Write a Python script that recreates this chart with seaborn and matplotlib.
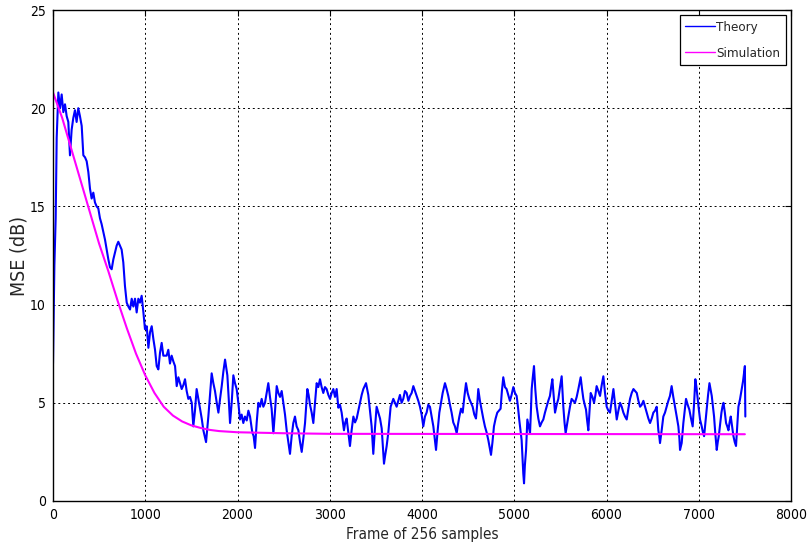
import matplotlib
matplotlib.use("Agg")
import matplotlib.pyplot as plt
import seaborn as sns
import pandas as pd

# ---- data ----
theory_x = [0, 15, 29, 40, 58, 76, 94, 112, 130, 148, 166, 184, 202, 220, 238, 256, 274, 292, 311, 329,
            347, 365, 383, 401, 419, 437, 455, 473, 491, 509, 527, 545, 564, 582, 600, 618, 636, 654, 672, 690,
            708, 726, 744, 762, 780, 799, 817, 835, 853, 871, 889, 907, 925, 943, 961, 980, 997, 1016, 1034, 1052,
            1070, 1088, 1106, 1124, 1142, 1160, 1178, 1196, 1214, 1232, 1250, 1268, 1286, 1305, 1323, 1341, 1359, 1377, 1395, 1413,
            1431, 1449, 1467, 1485, 1504, 1521, 1539, 1557, 1576, 1594, 1612, 1630, 1659, 1684, 1702, 1720, 1738, 1756, 1775, 1793,
            1811, 1829, 1847, 1865, 1890, 1905, 1919, 1937, 1955, 1973, 1991, 2009, 2027, 2045, 2063, 2081, 2100, 2118, 2136, 2160,
            2175, 2190, 2208, 2226, 2244, 2262, 2280, 2298, 2316, 2334, 2352, 2370, 2389, 2407, 2425, 2443, 2461, 2479, 2497, 2515,
            2533, 2551, 2569, 2587, 2605, 2623, 2641, 2660, 2678, 2696, 2714, 2732, 2757, 2771, 2786, 2804, 2822, 2840, 2858, 2876,
            2894, 2912, 2930, 2948, 2966, 2985, 3003, 3021, 3039, 3057, 3075, 3093, 3111, 3129, 3154, 3168, 3183, 3201, 3219, 3237,
            3256, 3274, 3292, 3310, 3328, 3346, 3364, 3393, 3418, 3436, 3454, 3472, 3490, 3508, 3526, 3545, 3563, 3575, 3588, 3600,
            3617, 3635, 3660, 3689, 3707, 3725, 3743, 3761, 3779, 3797, 3815, 3834, 3852, 3870, 3888, 3906, 3924, 3942, 3960, 3978,
            3996, 4014, 4032, 4050, 4068, 4086, 4105, 4123, 4140, 4152, 4170, 4188, 4206, 4224, 4249, 4267, 4285, 4303, 4321, 4339,
            4357, 4376, 4390, 4405, 4423, 4441, 4459, 4477, 4495, 4513, 4531, 4549, 4567, 4585, 4600, 4610, 4628, 4646, 4664, 4682,
            4700, 4719, 4748, 4764, 4780, 4798, 4816, 4834, 4852, 4866, 4881, 4899, 4917, 4935, 4953, 4971, 4990, 5008, 5026, 5040,
            5055, 5068, 5080, 5090, 5098, 5106, 5115, 5128, 5142, 5156, 5171, 5180, 5189, 5201, 5214, 5228, 5243, 5261, 5279, 5297,
            5315, 5333, 5351, 5369, 5387, 5400, 5413, 5428, 5442, 5460, 5478, 5496, 5514, 5532, 5545, 5557, 5572, 5586, 5604, 5622,
            5640, 5658, 5677, 5695, 5720, 5735, 5749, 5764, 5778, 5790, 5803, 5816, 5829, 5847, 5865, 5880, 5893, 5912, 5930, 5948,
            5966, 5984, 6002, 6020, 6038, 6057, 6075, 6093, 6111, 6129, 6147, 6165, 6183, 6201, 6219, 6237, 6255, 6273, 6292, 6310,
            6328, 6346, 6364, 6382, 6400, 6418, 6436, 6454, 6472, 6490, 6508, 6526, 6544, 6553, 6562, 6572, 6580, 6598, 6616, 6634,
            6652, 6670, 6688, 6706, 6724, 6743, 6761, 6779, 6790, 6797, 6815, 6833, 6848, 6862, 6880, 6898, 6916, 6934, 6950, 6963,
            6975, 6985, 7000, 7014, 7032, 7045, 7058, 7072, 7087, 7101, 7116, 7128, 7141, 7154, 7166, 7180, 7195, 7206, 7217, 7231,
            7246, 7257, 7268, 7283, 7296, 7309, 7322, 7334, 7347, 7362, 7376, 7390, 7404, 7417, 7430, 7448, 7466, 7480, 7491, 7500,
            7505]
theory_y = [7.0, 12.0, 14.4, 18.5, 20.8, 20.0, 20.7, 19.8, 20.2, 19.6, 19.3, 17.6, 18.9, 19.5, 19.9, 19.3, 20.0, 19.6, 19.1, 17.6,
            17.5, 17.3, 16.75, 15.9, 15.4, 15.7, 15.2, 15.0, 14.9, 14.4, 14.1, 13.7, 13.3, 12.8, 12.3, 11.9, 11.8, 12.3, 12.65, 13.0,
            13.2, 13.0, 12.8, 12.15, 10.95, 10.1, 9.9, 9.75, 10.3, 9.9, 10.3, 9.6, 10.3, 10.1, 10.45, 9.6, 8.75, 8.9, 7.8, 8.6,
            8.9, 8.25, 7.7, 6.87, 6.7, 7.55, 8.05, 7.4, 7.4, 7.4, 7.7, 7.0, 7.4, 7.1, 6.87, 5.85, 6.3, 6.0, 5.7, 5.9,
            6.2, 5.6, 5.2, 5.3, 5.0, 3.8, 4.6, 5.7, 5.2, 4.7, 4.2, 3.6, 3.0, 4.3, 5.4, 6.5, 6.0, 5.6, 5.0, 4.5,
            5.2, 5.85, 6.6, 7.2, 6.4, 5.2, 3.97, 5.0, 6.4, 6.0, 5.7, 5.0, 4.15, 4.4, 3.97, 4.3, 4.1, 4.6, 4.3, 3.5,
            3.3, 2.7, 4.0, 5.0, 4.8, 5.2, 4.8, 5.0, 5.5, 6.0, 5.3, 4.7, 3.45, 4.6, 5.85, 5.5, 5.3, 5.6, 5.0, 4.4,
            3.6, 3.0, 2.4, 3.3, 3.97, 4.3, 3.8, 3.6, 3.0, 2.5, 3.2, 3.97, 5.7, 5.4, 4.9, 4.5, 3.97, 5.0, 6.0, 5.8,
            6.2, 5.8, 5.5, 5.8, 5.7, 5.4, 5.2, 5.5, 5.7, 5.3, 5.7, 4.75, 4.9, 4.5, 3.6, 4.0, 4.2, 3.5, 2.8, 3.6,
            4.3, 4.0, 4.2, 4.6, 5.0, 5.4, 5.7, 6.0, 5.4, 4.6, 3.8, 2.4, 3.7, 4.8, 4.5, 4.2, 3.7, 2.8, 1.9, 2.3,
            2.8, 3.5, 4.8, 5.2, 5.0, 4.8, 5.1, 5.4, 5.0, 5.2, 5.6, 5.5, 5.1, 5.35, 5.5, 5.85, 5.6, 5.35, 5.1, 4.8,
            4.4, 3.8, 4.3, 4.5, 4.9, 4.8, 4.3, 3.8, 3.1, 2.6, 3.6, 4.5, 5.0, 5.5, 6.0, 5.7, 5.35, 4.9, 4.5, 4.0,
            3.8, 3.45, 3.9, 4.3, 4.7, 4.5, 5.3, 6.0, 5.5, 5.2, 5.0, 4.8, 4.4, 4.2, 5.0, 5.7, 5.1, 4.65, 4.2, 3.8,
            3.5, 3.1, 2.35, 3.0, 3.8, 4.2, 4.5, 4.6, 4.7, 5.6, 6.3, 5.8, 5.7, 5.4, 5.1, 5.4, 5.8, 5.5, 5.35, 4.8,
            4.1, 3.6, 3.1, 2.2, 1.4, 0.9, 1.8, 2.6, 4.15, 3.8, 3.45, 4.5, 5.7, 6.3, 6.87, 5.7, 4.8, 4.2, 3.8, 4.0,
            4.15, 4.5, 4.8, 5.1, 5.35, 5.8, 6.2, 5.3, 4.5, 4.9, 5.2, 5.8, 6.35, 4.8, 4.0, 3.45, 3.9, 4.3, 4.8, 5.2,
            5.1, 5.0, 5.3, 5.7, 6.3, 5.7, 5.2, 4.9, 4.65, 4.1, 3.6, 4.6, 5.5, 5.3, 5.0, 5.4, 5.85, 5.6, 5.35, 5.9,
            6.35, 5.5, 4.8, 4.6, 4.5, 5.1, 5.7, 4.9, 4.15, 4.6, 5.0, 4.8, 4.5, 4.3, 4.15, 4.7, 5.2, 5.5, 5.7, 5.6,
            5.5, 5.1, 4.8, 4.9, 5.1, 4.8, 4.5, 4.2, 3.97, 4.2, 4.5, 4.6, 4.8, 4.2, 3.6, 3.3, 2.95, 3.6, 4.3, 4.5,
            4.8, 5.1, 5.35, 5.85, 5.3, 4.8, 4.3, 3.8, 3.2, 2.6, 2.95, 3.97, 4.6, 5.2, 4.9, 4.65, 4.2, 3.8, 5.0, 6.2,
            5.8, 5.35, 4.7, 4.15, 3.8, 3.5, 3.3, 4.0, 4.8, 5.4, 6.0, 5.7, 5.35, 4.8, 4.3, 3.4, 2.6, 3.0, 3.3, 3.9,
            4.5, 4.8, 5.0, 4.5, 3.97, 3.8, 3.6, 4.0, 4.3, 3.8, 3.3, 3.0, 2.8, 3.8, 4.8, 5.2, 5.7, 6.1, 6.5, 6.87,
            4.3]

sim_x = [0, 100, 200, 300, 400, 500, 600, 700, 800, 900, 1000, 1100, 1200, 1300, 1400, 1500, 1600, 1700, 1800, 2000,
         2500, 3000, 7500]
sim_y = [20.8, 19.5, 17.9, 16.3, 14.7, 13.1, 11.7, 10.2, 8.8, 7.5, 6.4, 5.5, 4.8, 4.35, 4.05, 3.85, 3.72, 3.62, 3.56, 3.5,
         3.45, 3.42, 3.4]

x_ticks = [0, 1000, 2000, 3000, 4000, 5000, 6000, 7000, 8000]
y_ticks = [0, 5, 10, 15, 20, 25]
series_names = ["Theory", "Simulation"]
series_colors = ["#0000FF", "#FF00FF"]

# ---- build table ----
df = pd.concat([
    pd.DataFrame({"x": theory_x, "y": theory_y, "series": series_names[0]}),
    pd.DataFrame({"x": sim_x, "y": sim_y, "series": series_names[1]}),
], ignore_index=True)

sns.set_style("white")
plt.rcParams["font.family"] = ["DejaVu Sans"]
plt.rcParams["font.stretch"] = "condensed"

fig = plt.figure(figsize=(8.08, 5.51), dpi=100)
ax = fig.add_axes([53 / 808, 50 / 551, (791 - 53) / 808, (501 - 10) / 551])

sns.lineplot(data=df, x="x", y="y", hue="series", palette=dict(zip(series_names, series_colors)),
             estimator=None, sort=False, ax=ax, linewidth=1.5)
for line in ax.get_lines():
    if line.get_label() == series_names[1]:
        line.set_linewidth(1.4)

ax.set_xlim(0, 8000)
ax.set_ylim(0, 25)
ax.set_xticks(x_ticks)
ax.set_yticks(y_ticks)
ax.set_xticklabels([str(t) for t in x_ticks], fontsize=10)
ax.set_yticklabels([str(t) for t in y_ticks], fontsize=10)
ax.set_xlabel("Frame of 256 samples", fontsize=11, labelpad=4)
ax.set_ylabel("MSE (dB)", fontsize=14, labelpad=1)

ax.grid(True, color="black", linestyle=(0, (2, 3)), linewidth=0.7)
ax.tick_params(direction="in", length=4, width=0.8, top=True, right=True, colors="black", pad=5)
for s in ax.spines.values():
    s.set_color("black")
    s.set_linewidth(1.0)
    s.set_visible(True)

leg = ax.legend(loc="upper right", fontsize=9.5, frameon=True, fancybox=False, framealpha=1,
                edgecolor="black", borderaxespad=0.4, handlelength=2.3, handletextpad=0.1,
                borderpad=0.4, labelspacing=1.0)
leg.get_frame().set_linewidth(0.9)
for h in leg.get_lines():
    h.set_linewidth(1.0)

fig.savefig("out.png", dpi=100)
